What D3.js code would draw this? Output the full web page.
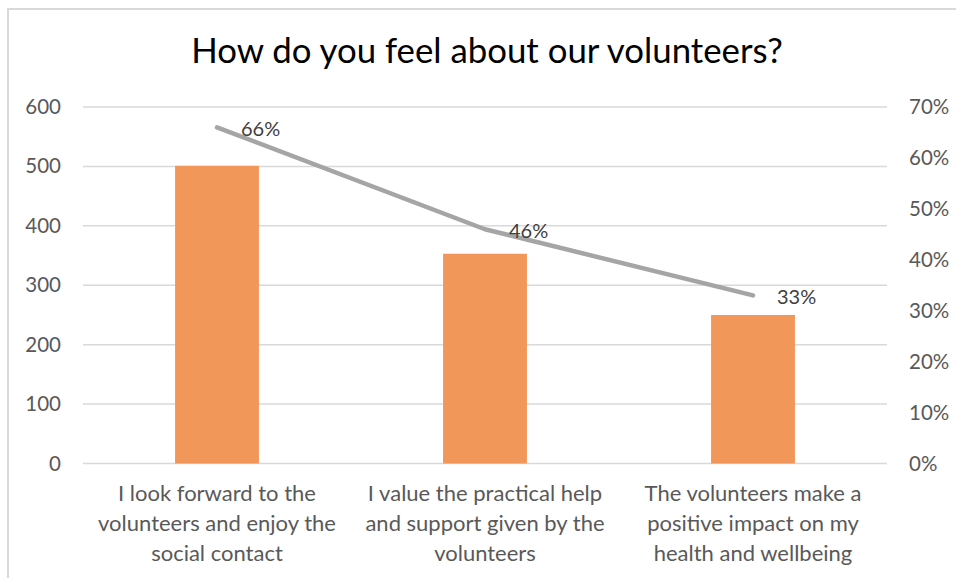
<!DOCTYPE html>
<html>
<head>
<meta charset="utf-8">
<script src="https://cdn.jsdelivr.net/npm/d3@7"></script>
<style>
  html, body { margin: 0; padding: 0; background: #fff; }
  svg { display: block; font-family: Lato, "Open Sans", sans-serif; }
</style>
</head>
<body>
<svg id="chart" width="956" height="578"></svg>
<script>
const title = "How do you feel about our volunteers?";
const categories = [
  ["I look forward to the", "volunteers and enjoy the", "social contact"],
  ["I value the practical help", "and support given by the", "volunteers"],
  ["The volunteers make a", "positive impact on my", "health and wellbeing"],
];
const counts = [501, 353, 250];
const shares = [0.66, 0.46, 0.33];
const leftTicks = [0, 100, 200, 300, 400, 500, 600];
const rightTicks = [0, 0.1, 0.2, 0.3, 0.4, 0.5, 0.6, 0.7];

const width = 956;
const height = 578;
const plot = { left: 83, right: 887, top: 107, bottom: 463.5 };
const barColor = "#f19759";
const lineColor = "#a5a5a5";
const gridColor = "#d9d9d9";

const svg = d3.select("#chart");

// chart frame
svg.append("rect")
  .attr("x", 8).attr("y", 9)
  .attr("width", width + 10).attr("height", height + 10)
  .attr("fill", "#fff")
  .attr("stroke", gridColor)
  .attr("stroke-width", 2);

svg.append("text")
  .text(title)
  .attr("x", 487)
  .attr("y", 63)
  .attr("text-anchor", "middle")
  .attr("fill", "#000")
  .style("font-size", "34.8px");

const keys = categories.map((c, i) => i);

const x = d3.scaleBand()
  .domain(keys)
  .range([plot.left, plot.right])
  .paddingInner(0.687)
  .paddingOuter(0.687 / 2);

const yLeft = d3.scaleLinear().domain([0, 600]).range([plot.bottom, plot.top]);
const yRight = d3.scaleLinear().domain([0, 0.7]).range([plot.bottom, plot.top]);

// gridlines
svg.append("g")
  .selectAll("line")
  .data(leftTicks)
  .join("line")
  .attr("x1", plot.left)
  .attr("x2", plot.right)
  .attr("y1", (d) => yLeft(d))
  .attr("y2", (d) => yLeft(d))
  .attr("stroke", gridColor)
  .attr("stroke-width", 1.5);

// left axis
const leftAxis = svg.append("g")
  .attr("transform", `translate(${plot.left},0)`)
  .call(d3.axisLeft(yLeft).tickValues(leftTicks).tickSize(0).tickPadding(22));
leftAxis.select(".domain").remove();
leftAxis.selectAll("text")
  .attr("fill", "#595959")
  .style("font-family", "Lato, sans-serif")
  .style("font-size", "20.5px");

// right axis
const rightAxis = svg.append("g")
  .attr("transform", `translate(${plot.right},0)`)
  .call(d3.axisRight(yRight).tickValues(rightTicks).tickSize(0).tickPadding(22)
    .tickFormat(d3.format(".0%")));
rightAxis.select(".domain").remove();
rightAxis.selectAll("text")
  .attr("fill", "#595959")
  .style("font-family", "Lato, sans-serif")
  .style("font-size", "20.5px");

// bars
svg.append("g")
  .selectAll("rect")
  .data(counts)
  .join("rect")
  .attr("x", (d, i) => x(i))
  .attr("y", (d) => yLeft(d))
  .attr("width", x.bandwidth())
  .attr("height", (d) => yLeft(0) - yLeft(d))
  .attr("fill", barColor);

// share line
const line = d3.line()
  .x((d, i) => x(i) + x.bandwidth() / 2)
  .y((d) => yRight(d));

svg.append("path")
  .datum(shares)
  .attr("d", line)
  .attr("fill", "none")
  .attr("stroke", lineColor)
  .attr("stroke-width", 4.5)
  .attr("stroke-linecap", "round")
  .attr("stroke-linejoin", "round");

svg.append("g")
  .selectAll("text")
  .data(shares)
  .join("text")
  .text((d) => d3.format(".0%")(d))
  .attr("x", (d, i) => x(i) + x.bandwidth() / 2 + 24)
  .attr("y", (d) => yRight(d) + 1)
  .attr("dominant-baseline", "central")
  .attr("fill", "#404040")
  .style("font-size", "20px");

// category labels
const catGroups = svg.append("g")
  .selectAll("text")
  .data(categories)
  .join("text")
  .attr("x", (d, i) => x(i) + x.bandwidth() / 2)
  .attr("y", 501)
  .attr("text-anchor", "middle")
  .attr("fill", "#595959")
  .style("font-size", "22px");

catGroups.selectAll("tspan")
  .data((d, i) => d.map((t) => ({ t, cx: x(i) + x.bandwidth() / 2 })))
  .join("tspan")
  .attr("x", (d) => d.cx)
  .attr("dy", (d, j) => (j === 0 ? 0 : 30))
  .text((d) => d.t);
</script>
</body>
</html>
